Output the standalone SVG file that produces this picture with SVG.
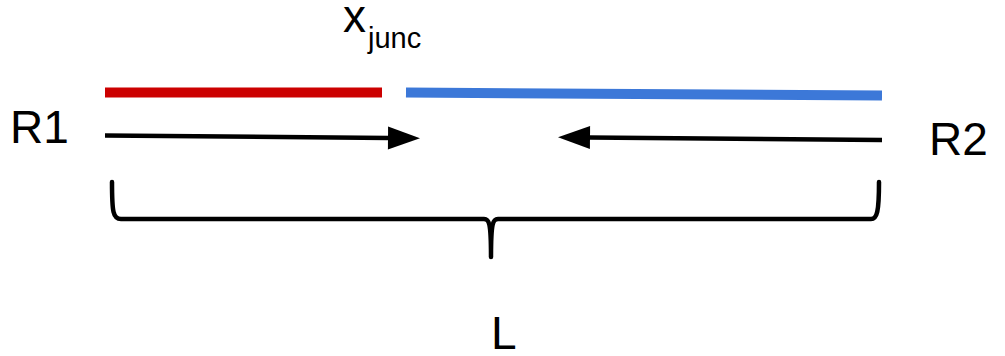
<svg xmlns="http://www.w3.org/2000/svg" width="1005" height="356" viewBox="0 0 1005 356">
<defs>
<style>
.lbl{font-family:"Liberation Sans",Arial,sans-serif;font-size:46px;fill:#000}
.sub{font-family:"Liberation Sans",Arial,sans-serif;font-size:29px;fill:#000}
.arr{stroke:#000;stroke-width:4.5;fill:none}
.seg{stroke-width:10;fill:none}
</style>
<marker id="ah" markerUnits="userSpaceOnUse" markerWidth="34" markerHeight="24" refX="1" refY="11.5" orient="auto" overflow="visible">
<path d="M0,0 L32,11.5 L0,23 Z" fill="#000"/>
</marker>
</defs>
<rect width="1005" height="356" fill="#fff"/>
<g id="segment-r1">
<line class="seg" x1="105" y1="92.5" x2="382" y2="92.5" stroke="#cc0000"/>
</g>
<g id="segment-r2">
<line class="seg" x1="406" y1="92.5" x2="882" y2="95.5" stroke="#3c78d8"/>
</g>
<g id="label-xjunc">
<text class="lbl" x="343" y="32">x</text>
<text class="sub" x="368" y="48">junc</text>
</g>
<g id="label-r1">
<text class="lbl" x="10" y="143">R1</text>
</g>
<g id="label-r2">
<text class="lbl" x="929" y="155">R2</text>
</g>
<g id="label-l">
<text class="lbl" x="491" y="349">L</text>
</g>
<g id="connectors">
<line class="arr" x1="105" y1="135.5" x2="389" y2="138" marker-end="url(#ah)"/>
<line class="arr" x1="882" y1="140" x2="589" y2="137.5" marker-end="url(#ah)"/>
</g>
<g id="brace">
<path d="M112,182 C112,212 113,219 121,219 L484,219 C489,219 491,222 491,257 C491,222 493,219 498,219 L871,219 C877,219 879,212 879,182" fill="none" stroke="#000" stroke-width="4.5" stroke-linecap="round" stroke-linejoin="round"/>
</g>
</svg>
